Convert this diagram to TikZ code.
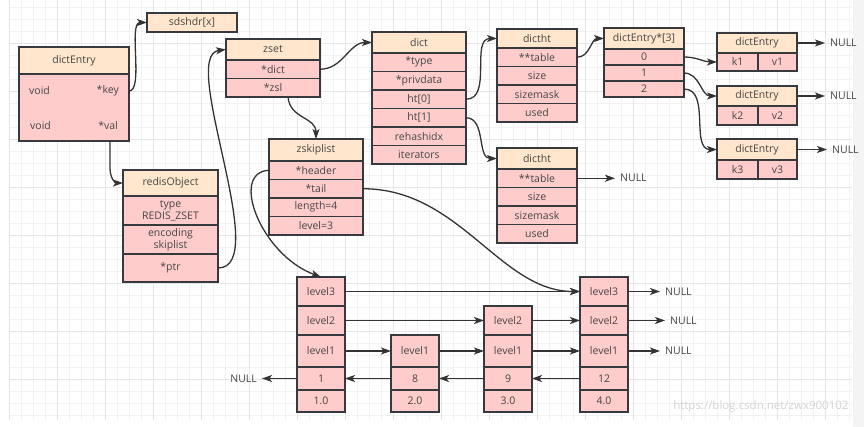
\documentclass[tikz,border=0pt]{standalone}
\usepackage{fontspec}
\setmainfont{Open Sans}
\usepackage{xcolor}
\usetikzlibrary{positioning,calc,arrows.meta}

\definecolor{peach}{HTML}{FFE6CC}
\definecolor{rose}{HTML}{FFCCCC}
\definecolor{edge}{HTML}{36393D}
\definecolor{ink}{HTML}{454545}
\definecolor{wire}{HTML}{333333}

\begin{document}
\begin{tikzpicture}[x=1pt,y=-1pt,
    >={Stealth[length=10pt,width=7pt,inset=2.5pt]},
    cell/.style={draw=edge,line width=1.2pt,outer sep=0pt,inner sep=0pt,text=ink,
      font=\fontsize{10.5}{12}\selectfont,minimum width=#1},
    hd/.style={cell=#1,fill=peach,minimum height=21},
    hd/.default=94,
    fd/.style={cell=#1,fill=rose,minimum height=18.5},
    fd/.default=94,
    lbl/.style={text=ink,font=\fontsize{10.5}{12}\selectfont,inner sep=0pt},
    nul/.style={text=ink,font=\fontsize{10.5}{12}\selectfont,inner sep=5pt},
    link/.style={->,draw=wire,line width=1.3pt}]
  \useasboundingbox (0,0) rectangle (864,427);
  % background grid
  \fill[gray!9] (853,0) rectangle (864,427);
  \begin{scope}[shift={(9,7)},y=1pt]
    \draw[black!5,line width=0.6pt,step=12] (0,-413) grid (843,7);
  \end{scope}
  \begin{scope}[shift={(9,43)},y=1pt]
    \draw[black!10,line width=0.6pt,step=48] (0,-377) grid (843,43);
  \end{scope}

  % dictEntry on the left
  \node (de) [hd=110, minimum height=27, anchor=north west] at (19,47) {dictEntry};
  \node (deb) [fd=110, minimum height=67, below=0pt of de] {};
  \node (dv1) [lbl, anchor=west] at ($(deb.north west)+(10,17)$) {void};
  \node (dkey) [lbl, anchor=east] at ($(deb.north east)+(-10,17)$) {*key};
  \node (dv2) [lbl, anchor=west] at ($(deb.north west)+(11,52)$) {void};
  \node (dval) [lbl, anchor=east] at ($(deb.north east)+(-11,52)$) {*val};
  \node (sds) [hd=90, minimum height=19, anchor=north west] at (147,13) {sdshdr[x]};

  % redisObject
  \node (ro) [hd=95, minimum height=26, anchor=north west] at (123,170) {redisObject};
  \node (rotype) [fd=95, minimum height=29, align=center, below=0pt of ro] {type\\REDIS\_ZSET};
  \node (roenc) [fd=95, minimum height=29, align=center, below=0pt of rotype] {encoding\\skiplist};
  \node (roptr) [fd=95, minimum height=28, below=0pt of roenc] {*ptr};

  % zset
  \node (zset) [hd, anchor=north west] at (226,39) {zset};
  \node (zdict) [fd, below=0pt of zset] {*dict};
  \node (zzsl) [fd, below=0pt of zdict] {*zsl};

  % dict
  \node (dict) [hd, anchor=north west] at (372,32) {dict};
  \node (dtype) [fd, below=0pt of dict] {*type};
  \node (dpriv) [fd, below=0pt of dtype] {*privdata};
  \node (dht0) [fd, below=0pt of dpriv] {ht[0]};
  \node (dht1) [fd, below=0pt of dht0] {ht[1]};
  \node (drehash) [fd, below=0pt of dht1] {rehashidx};
  \node (diter) [fd, below=0pt of drehash] {iterators};

  % dictht ht[0]
  \node (ht0) [hd=80, minimum height=19, anchor=north west] at (497,29) {dictht};
  \node (t0tab) [fd=80, below=0pt of ht0] {**table};
  \node (t0size) [fd=80, below=0pt of t0tab] {size};
  \node (t0mask) [fd=80, below=0pt of t0size] {sizemask};
  \node (t0used) [fd=80, below=0pt of t0mask] {used};

  % dictht ht[1]
  \node (ht1) [hd=80, anchor=north west] at (497,148) {dictht};
  \node (t1tab) [fd=80, below=0pt of ht1] {**table};
  \node (t1size) [fd=80, below=0pt of t1tab] {size};
  \node (t1mask) [fd=80, below=0pt of t1size] {sizemask};
  \node (t1used) [fd=80, below=0pt of t1mask] {used};
  \node (nl0) [nul, right=38pt of t1tab] {NULL};

  % table of entries
  \node (tab) [hd=80, anchor=north west] at (604,28) {dictEntry*[3]};
  \node (tab0) [fd=80, minimum height=16, below=0pt of tab] {0};
  \node (tab1) [fd=80, minimum height=16, below=0pt of tab0] {1};
  \node (tab2) [fd=80, minimum height=16, below=0pt of tab1] {2};

  \node (en1) [hd=80, minimum height=20, anchor=north west] at (717,33) {dictEntry};
  \node (k1) [fd=41, minimum height=18, below right=0pt and 0pt of en1.south west] {k1};
  \node (v1) [fd=39, minimum height=18, right=0pt of k1] {v1};
  \node (en2) [hd=80, minimum height=20, anchor=north west] at (717,86) {dictEntry};
  \node (k2) [fd=41, minimum height=19, below right=0pt and 0pt of en2.south west] {k2};
  \node (v2) [fd=39, minimum height=19, right=0pt of k2] {v2};
  \node (en3) [hd=80, minimum height=21, anchor=north west] at (717,139) {dictEntry};
  \node (k3) [fd=41, minimum height=19, below right=0pt and 0pt of en3.south west] {k3};
  \node (v3) [fd=39, minimum height=19, right=0pt of k3] {v3};
  \node (nl1) [nul, right=28pt of en1] {NULL};
  \node (nl2) [nul, right=28pt of en2] {NULL};
  \node (nl3) [nul, right=30pt of en3] {NULL};

  % zskiplist
  \node (zsl) [hd, minimum height=22, anchor=north west] at (269,139) {zskiplist};
  \node (zhead) [fd, below=0pt of zsl] {*header};
  \node (ztail) [fd, below=0pt of zhead] {*tail};
  \node (zlen) [fd, below=0pt of ztail] {length=4};
  \node (zlev) [fd, below=0pt of zlen] {level=3};

  % skiplist nodes
  \node (n1k) [fd=48, minimum height=23, anchor=north west] at (297,367) {1};
  \node (n1s) [fd=48, minimum height=22, below=0pt of n1k] {1.0};
  \node (n1l1) [fd=48, minimum height=32, above=0pt of n1k] {level1};
  \node (n1l2) [fd=48, minimum height=29, above=0pt of n1l1] {level2};
  \node (n1l3) [fd=48, minimum height=29, above=0pt of n1l2] {level3};

  \node (n8k) [fd=48, minimum height=23, anchor=north west] at (391,367) {8};
  \node (n8s) [fd=48, minimum height=22, below=0pt of n8k] {2.0};
  \node (n8l1) [fd=48, minimum height=32, above=0pt of n8k] {level1};

  \node (n9k) [fd=48, minimum height=23, anchor=north west] at (484,367) {9};
  \node (n9s) [fd=48, minimum height=22, below=0pt of n9k] {3.0};
  \node (n9l1) [fd=48, minimum height=32, above=0pt of n9k] {level1};
  \node (n9l2) [fd=48, minimum height=29, above=0pt of n9l1] {level2};

  \node (n12k) [fd=48, minimum height=23, anchor=north west] at (580,367) {12};
  \node (n12s) [fd=48, minimum height=22, below=0pt of n12k] {4.0};
  \node (n12l1) [fd=48, minimum height=32, above=0pt of n12k] {level1};
  \node (n12l2) [fd=48, minimum height=29, above=0pt of n12l1] {level2};
  \node (n12l3) [fd=48, minimum height=29, above=0pt of n12l2] {level3};

  \node (nlk) [nul, left=35pt of n1k] {NULL};
  \node (nr3) [nul, right=32pt of n12l3] {NULL};
  \node (nr2) [nul, right=37pt of n12l2] {NULL};
  \node (nr1) [nul, right=32pt of n12l1] {NULL};

  \node (mark) [anchor=east, text=gray!35, font=\fontsize{11.5}{13}\selectfont] at (852,407) {https://blog.csdn.net/zwx900102};

  % pointers
  \draw[link] (deb.east |- dkey) .. controls +(15,0) and +(-19,0) .. (sds.west);
  \draw[link] ($(deb.south east)+(-19,0)$) -- ++(0,27) .. controls +(0,10) and +(-8,0) .. (ro.west);
  \draw[link] (roptr.east) .. controls +(55,0) and +(-48,6) .. (zset.west);
  \draw[link] (zdict.east) to[out=0,in=180] (dict.west);
  \draw[link] ($(zzsl.south)+(15,0)$) .. controls +(2,22) and +(0,-22) .. (zsl.north);
  \draw[link] (dht0.east) to[out=0,in=180] (ht0.west);
  \draw[link] (dht1.east) to[out=0,in=180] (ht1.west);
  \draw[link] (t0tab.east) to[out=0,in=180] (tab.west);
  \draw[link] (t1tab) -- (nl0);
  \draw[link] (tab0.east) to[out=0,in=180] (k1.west);
  \draw[link] (tab1.east) to[out=0,in=180] (en2.west);
  \draw[link] (tab2.east) to[out=0,in=180] (en3.west);
  \draw[link] (en1) -- (nl1);
  \draw[link] (en2) -- (nl2);
  \draw[link] (en3) -- (nl3);
  \draw[link] (zhead.west) .. controls +(-40,2) and +(-60,-22) .. (n1l3.north);
  \draw[link] (ztail.east) .. controls +(97,0) and +(-80,0) .. (n12l3.west);

  % forward and backward links
  \draw[link] (n1l3) -- (n12l3);
  \draw[link] (n1l2) -- (n9l2);
  \draw[link] (n9l2) -- (n12l2);
  \draw[link] (n1l1) -- (n8l1);
  \draw[link] (n8l1) -- (n9l1);
  \draw[link] (n9l1) -- (n12l1);
  \draw[link] (n12k) -- (n9k);
  \draw[link] (n9k) -- (n8k);
  \draw[link] (n8k) -- (n1k);
  \draw[link] (n1k) -- (nlk);
  \draw[link] (n12l3) -- (nr3);
  \draw[link] (n12l2) -- (nr2);
  \draw[link] (n12l1) -- (nr1);
\end{tikzpicture}
\end{document}
